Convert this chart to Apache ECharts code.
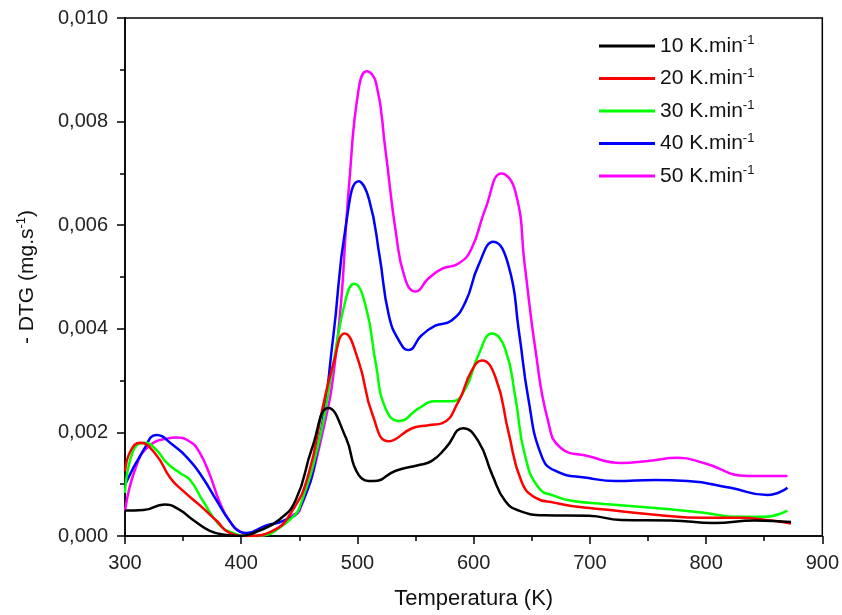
<!DOCTYPE html>
<html>
<head>
<meta charset="utf-8">
<script src="https://cdn.jsdelivr.net/npm/echarts@6/dist/echarts.min.js"></script>
<style>
  html, body { margin: 0; padding: 0; background: #fff; }
  #main { width: 842px; height: 615px; }
</style>
</head>
<body>
<div id="main"></div>
<script>
// taxas de aquecimento (legenda)
var rates = ['10', '20', '30', '40', '50'];
var colors = ['#000000', '#ff0000', '#00ff00', '#0000ff', '#ff00ff'];

// 10 K.min-1
var t10 = [300, 316, 334, 346, 358, 373, 387, 400, 415, 433, 447, 461, 475, 490, 501, 514, 533, 553, 564, 576, 591, 604, 616, 627, 639, 661, 699, 727, 770, 807, 842, 873];
var v10 = [0.00049, 0.0005, 0.00061, 0.00052, 0.00032, 0.0001, 0.00002, 0, 0.0001, 0.00032, 0.0007, 0.0017, 0.00247, 0.0019, 0.00118, 0.00106, 0.00126, 0.00137, 0.00145, 0.0017, 0.00208, 0.00183, 0.00118, 0.00068, 0.00049, 0.0004, 0.00039, 0.00031, 0.0003, 0.00025, 0.0003, 0.00027];

// 20 K.min-1
var t20 = [300, 305, 313, 327, 339, 350, 364, 379, 390, 405, 427, 444, 458, 470, 479, 489, 501, 513, 527, 547, 561, 573, 587, 598, 607, 619, 630, 641, 653, 670, 684, 713, 756, 798, 827, 856, 873];
var v20 = [0.00125, 0.00165, 0.0018, 0.00156, 0.00112, 0.00087, 0.0006, 0.00029, 0.00006, 0, 0.0001, 0.00049, 0.0012, 0.00247, 0.0033, 0.00391, 0.00337, 0.00234, 0.00183, 0.00208, 0.00214, 0.00218, 0.0026, 0.00318, 0.00339, 0.00305, 0.002, 0.00106, 0.00074, 0.00064, 0.00058, 0.00051, 0.00041, 0.00035, 0.00035, 0.0003, 0.00024];

// 30 K.min-1
var t30 = [300, 307, 317, 327, 336, 347, 356, 367, 381, 393, 406, 421, 433, 444, 450, 467, 479, 490, 497, 507, 516, 524, 536, 553, 567, 581, 593, 604, 616, 627, 636, 644, 656, 670, 684, 713, 756, 798, 827, 850, 870];
var v30 = [0.00083, 0.00164, 0.0018, 0.00166, 0.00141, 0.00122, 0.00108, 0.00068, 0.00022, 0.00006, 0, 0.00002, 0.00016, 0.00036, 0.00054, 0.00183, 0.0033, 0.00458, 0.00487, 0.00445, 0.0033, 0.00247, 0.00222, 0.00247, 0.0026, 0.0026, 0.00285, 0.00349, 0.00391, 0.00362, 0.00266, 0.00157, 0.00093, 0.00077, 0.00068, 0.00062, 0.00054, 0.00045, 0.00037, 0.00037, 0.00049];

// 40 K.min-1
var t40 = [300, 316, 327, 341, 356, 367, 379, 390, 399, 405, 421, 436, 450, 467, 479, 490, 501, 510, 519, 527, 536, 544, 555, 567, 581, 593, 604, 617, 630, 639, 647, 658, 670, 699, 722, 756, 784, 821, 853, 870];
var v40 = [0.00099, 0.00166, 0.00195, 0.00176, 0.00145, 0.00112, 0.00068, 0.00029, 0.00008, 0.00006, 0.0002, 0.00029, 0.00052, 0.00183, 0.00381, 0.00599, 0.00685, 0.0065, 0.00541, 0.00426, 0.00376, 0.00359, 0.00387, 0.00406, 0.00416, 0.00452, 0.00522, 0.00568, 0.00522, 0.00394, 0.00266, 0.00157, 0.00126, 0.00112, 0.00106, 0.00108, 0.00106, 0.00093, 0.00079, 0.00093];

// 50 K.min-1
var t50 = [300, 310, 321, 336, 344, 356, 364, 373, 381, 390, 401, 412, 430, 444, 450, 467, 482, 493, 501, 508, 516, 524, 533, 541, 550, 561, 573, 587, 598, 610, 624, 636, 644, 653, 664, 675, 699, 727, 750, 776, 798, 836, 870];
var v50 = [0.00049, 0.00137, 0.00174, 0.00188, 0.0019, 0.00182, 0.00162, 0.00118, 0.00068, 0.00029, 0.00006, 0, 0.00013, 0.0004, 0.00048, 0.0017, 0.00362, 0.00683, 0.00862, 0.00897, 0.00875, 0.00747, 0.00587, 0.00497, 0.00472, 0.00497, 0.00516, 0.00526, 0.00554, 0.00631, 0.007, 0.00664, 0.00522, 0.00362, 0.00222, 0.0017, 0.00154, 0.00141, 0.00145, 0.00151, 0.00141, 0.00116, 0.00116];

var temps = [t10, t20, t30, t40, t50];
var vals = [v10, v20, v30, v40, v50];

var font = 'Liberation Sans, Arial, sans-serif';

var series = rates.map(function (r, i) {
    return {
        name: r,
        type: 'line',
        data: temps[i].map(function (t, j) { return [t, vals[i][j]]; }),
        smooth: 0.5,
        showSymbol: false,
        lineStyle: { width: 2.5, color: colors[i] },
        itemStyle: { color: colors[i] },
        z: 10 - i
    };
});

var myChart = echarts.init(document.getElementById('main'));

var option = {
    animation: false,
    backgroundColor: '#fff',
    textStyle: { fontFamily: font },
    grid: {
        left: 125, right: 19, top: 18, bottom: 77,
        show: true, borderColor: '#000', borderWidth: 1.5
    },
    legend: {
        orient: 'vertical',
        left: 594,
        top: 29,
        itemWidth: 56,
        itemHeight: 3,
        itemGap: 10,
        icon: 'rect',
        data: rates,
        formatter: function (name) {
            return '{a|' + name + ' K.min}{s|-1}';
        },
        textStyle: {
            rich: {
                a: { fontSize: 21, color: '#111', fontFamily: font },
                s: { fontSize: 13, color: '#111', fontFamily: font, padding: [0, 0, 11, 0] }
            }
        }
    },
    xAxis: {
        type: 'value',
        min: 300, max: 900, interval: 100,
        name: 'Temperatura (K)',
        nameLocation: 'middle',
        nameGap: 52,
        nameTextStyle: { fontSize: 22, color: '#111' },
        axisLine: { lineStyle: { color: '#000', width: 1.5 } },
        axisTick: { length: 8, lineStyle: { color: '#000', width: 1.5 } },
        minorTick: { show: true, splitNumber: 2, length: 5, lineStyle: { color: '#000', width: 1.5 } },
        splitLine: { show: false },
        axisLabel: { fontSize: 20, color: '#222', margin: 17 }
    },
    yAxis: {
        type: 'value',
        min: 0, max: 0.01, interval: 0.002,
        name: '{a|- DTG (mg.s}{s|-1}{a|)}',
        nameLocation: 'middle',
        nameGap: 86,
        nameRotate: 90,
        nameTextStyle: {
            rich: {
                a: { fontSize: 21, color: '#111', fontFamily: font },
                s: { fontSize: 13, color: '#111', fontFamily: font, padding: [0, 0, 11, 0] }
            }
        },
        axisLine: { lineStyle: { color: '#000', width: 1.5 } },
        axisTick: { length: 8, lineStyle: { color: '#000', width: 1.5 } },
        minorTick: { show: true, splitNumber: 2, length: 5, lineStyle: { color: '#000', width: 1.5 } },
        splitLine: { show: false },
        axisLabel: {
            fontSize: 20, color: '#222', margin: 17,
            formatter: function (v) { return v.toFixed(3).replace('.', ','); }
        }
    },
    series: series
};

myChart.setOption(option);
</script>
</body>
</html>
